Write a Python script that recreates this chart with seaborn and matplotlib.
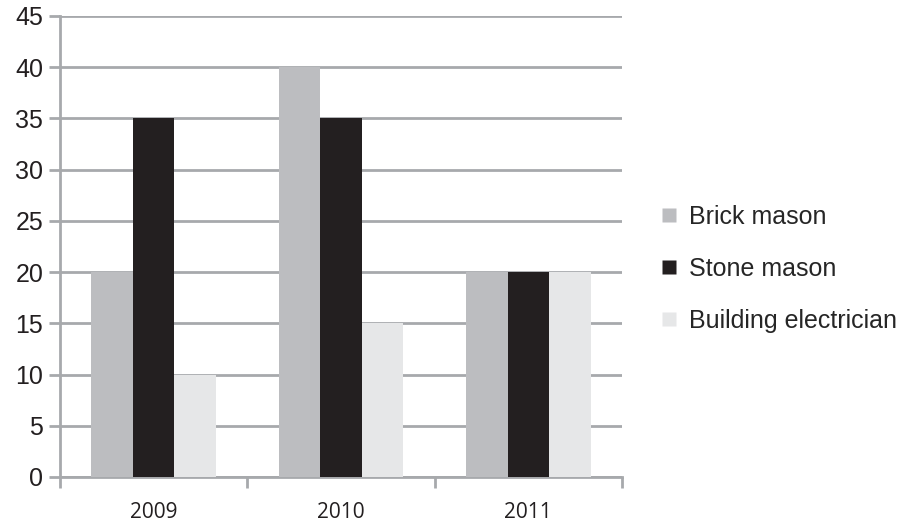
import matplotlib
matplotlib.use("Agg")
import matplotlib.pyplot as plt
import seaborn as sns
import pandas as pd
from matplotlib.lines import Line2D

years = ["2009", "2010", "2011"]
series = ["Brick mason", "Stone mason", "Building electrician"]
brick = [20, 40, 20]
stone = [35, 35, 20]
electrician = [10, 15, 20]
yticks = [0, 5, 10, 15, 20, 25, 30, 35, 40, 45]

colors = ["#bcbdc0", "#231f20", "#e6e7e8"]
grid_c = "#a7a9ac"

rows = []
for name, vals in zip(series, [brick, stone, electrician]):
    for y, v in zip(years, vals):
        rows.append({"year": y, "series": name, "value": v})
df = pd.DataFrame(rows)

sns.set_style("white")
plt.rcParams["font.family"] = ["Liberation Sans", "DejaVu Sans"]

fig = plt.figure(figsize=(9.11, 5.24), dpi=100)
ax = fig.add_axes([60/911, 47/524, 562/911, 461/524])

sns.barplot(data=df, x="year", y="value", hue="series", palette=colors,
            width=0.667, saturation=1, ax=ax, legend=False, zorder=3)
for p in ax.patches:
    p.set_edgecolor("none")

ax.set_xlim(-0.5, 2.5)
ax.set_ylim(0, 45)
ax.set_yticks(yticks)
ax.set_yticklabels([str(t) for t in yticks], fontsize=18, color="#231f20")
ax.yaxis.grid(True, color=grid_c, linewidth=2, zorder=0)
ax.set_axisbelow(True)
ax.tick_params(axis="y", length=8, width=2, color=grid_c, pad=4, left=True)

ax.set_xticks([-0.5, 0.5, 1.5, 2.5])
ax.set_xticklabels([])
ax.set_xticks([0, 1, 2], minor=True)
ax.set_xticklabels(years, minor=True, fontsize=15, color="#231f20",
                   family=["Open Sans", "DejaVu Sans"])
ax.tick_params(axis="x", which="major", length=8, width=2, color=grid_c, bottom=True)
ax.tick_params(axis="x", which="minor", length=0, pad=18)
ax.set_xlabel("")
ax.set_ylabel("")

for s in ["top", "right"]:
    ax.spines[s].set_visible(False)
for s in ["left", "bottom"]:
    ax.spines[s].set_color(grid_c)
    ax.spines[s].set_linewidth(2)

handles = [Line2D([0], [0], marker="s", linestyle="none", markersize=10,
                  markerfacecolor=c, markeredgecolor="none") for c in colors]
fig.legend(handles, series, loc="center left", bbox_to_anchor=(650/911, 1 - 269/524),
           frameon=False, fontsize=18, labelspacing=1.12, handlelength=0.7,
           handletextpad=0.45, borderaxespad=0)

fig.savefig("out.png", dpi=100)
